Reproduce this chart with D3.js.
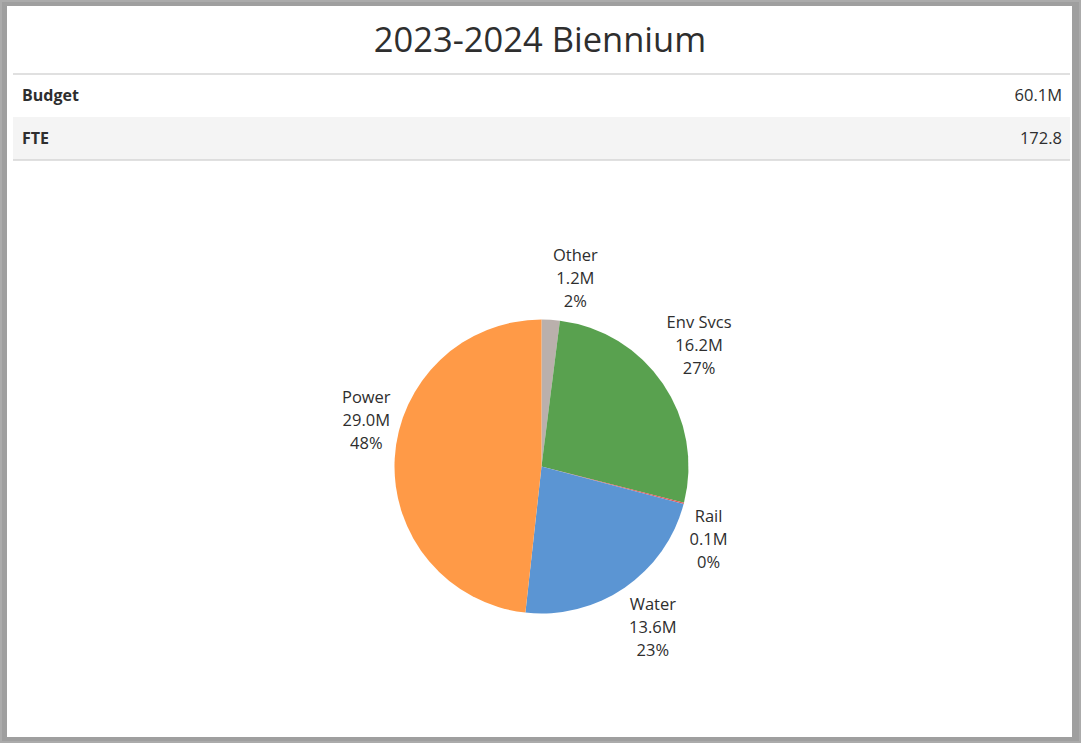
<!DOCTYPE html>
<html>
<head>
<meta charset="utf-8">
<script src="https://cdn.jsdelivr.net/npm/d3@7"></script>
<style>
  html, body { margin: 0; padding: 0; background: #fff; }
  svg { display: block; }
  text { font-family: "Open Sans", "Noto Sans", sans-serif; fill: #2e2e2e; }
</style>
</head>
<body>
<svg id="chart" width="1081" height="743"></svg>
<script>
// Biennium budget by line of business
const title = "2023-2024 Biennium";
const summaryLabels = ["Budget", "FTE"];
const summaryValues = ["60.1M", "172.8"];

const categories = ["Other", "Env Svcs", "Rail", "Water", "Power"];
const budgetM = [1.2, 16.2, 0.1, 13.6, 29.0];
const colors = ["#BAB0AC", "#59A14F", "#E15759", "#5B95D3", "#FF9A47"];

const W = 1081, H = 743;
const svg = d3.select("#chart");

// frame
svg.append("rect").attr("width", W).attr("height", H).attr("fill", "#ababab");
svg.append("rect").attr("x", 2).attr("y", 2).attr("width", W - 4).attr("height", H - 4).attr("fill", "#9f9f9f");
svg.append("rect").attr("x", 7).attr("y", 6).attr("width", 1065).attr("height", 731).attr("fill", "#fff");

// title
svg.append("text")
  .attr("x", 540).attr("y", 52)
  .attr("text-anchor", "middle")
  .style("font-size", "34.5px")
  .text(title);

// summary table
const rowY = d3.scaleBand().domain(summaryLabels).range([74, 160]);
const tableX0 = 13, tableX1 = 1070;
const rows = svg.append("g").selectAll("g").data(summaryLabels).join("g")
  .attr("transform", d => `translate(0,${rowY(d)})`);
rows.append("rect")
  .attr("x", tableX0).attr("width", tableX1 - tableX0)
  .attr("height", rowY.bandwidth())
  .attr("fill", (d, i) => i % 2 ? "#f4f4f4" : "#fff");
rows.append("text")
  .attr("x", 22).attr("y", rowY.bandwidth() / 2)
  .attr("dy", "0.35em")
  .style("font-size", "16px").style("font-weight", "bold")
  .text(d => d);
rows.append("text")
  .attr("x", 1062).attr("y", rowY.bandwidth() / 2)
  .attr("dy", "0.35em")
  .attr("text-anchor", "end")
  .style("font-size", "16.5px")
  .text((d, i) => summaryValues[i]);
[74, 160].forEach(y => {
  svg.append("line").attr("x1", tableX0).attr("x2", tableX1)
    .attr("y1", y).attr("y2", y)
    .attr("stroke", "#d6d6d6").attr("stroke-width", 1.5);
});

// pie
const cx = 541.5, cy = 466.5, R = 147;
const data = categories.map((c, i) => ({ name: c, value: budgetM[i], color: colors[i] }));
const total = d3.sum(budgetM);
const pie = d3.pie().value(d => d.value).sort(null).startAngle(0).endAngle(2 * Math.PI);
const arcs = pie(data);
const arc = d3.arc().innerRadius(0).outerRadius(R);

const g = svg.append("g").attr("transform", `translate(${cx},${cy})`);
g.selectAll("path").data(arcs).join("path")
  .attr("d", arc)
  .attr("fill", d => d.data.color);

// labels outside the pie, pushed clear of the rim
const lineH = 23, pad = 8;
const nudge = { "Other": [22, 1], "Env Svcs": [-3, -12], "Rail": [-2, 29], "Water": [0, -2], "Power": [4, -36] };
const fmtPct = v => Math.round(v / total * 100) + "%";
const labels = g.selectAll("g.lbl").data(arcs).join("g").attr("class", "lbl");
labels.each(function(d) {
  const sel = d3.select(this);
  const lines = [d.data.name, d.data.value.toFixed(1) + "M", fmtPct(d.data.value)];
  sel.selectAll("text").data(lines).join("text")
    .attr("text-anchor", "middle")
    .attr("y", (t, i) => (i - 1) * lineH)
    .attr("dy", "0.35em")
    .style("font-size", "16.5px")
    .text(t => t);
  const bb = this.getBBox();
  const hw = bb.width / 2, hh = bb.height / 2;
  const a = (d.startAngle + d.endAngle) / 2;
  const s = Math.sin(a), c = Math.cos(a);
  const t = Math.min(Math.abs(s) > 1e-6 ? hw / Math.abs(s) : Infinity, Math.abs(c) > 1e-6 ? hh / Math.abs(c) : Infinity);
  const dist = R + pad + t;
  const n = nudge[d.data.name] || [0, 0];
  sel.attr("transform", `translate(${s * dist + n[0]},${-c * dist + n[1]})`);
});
</script>
</body>
</html>
